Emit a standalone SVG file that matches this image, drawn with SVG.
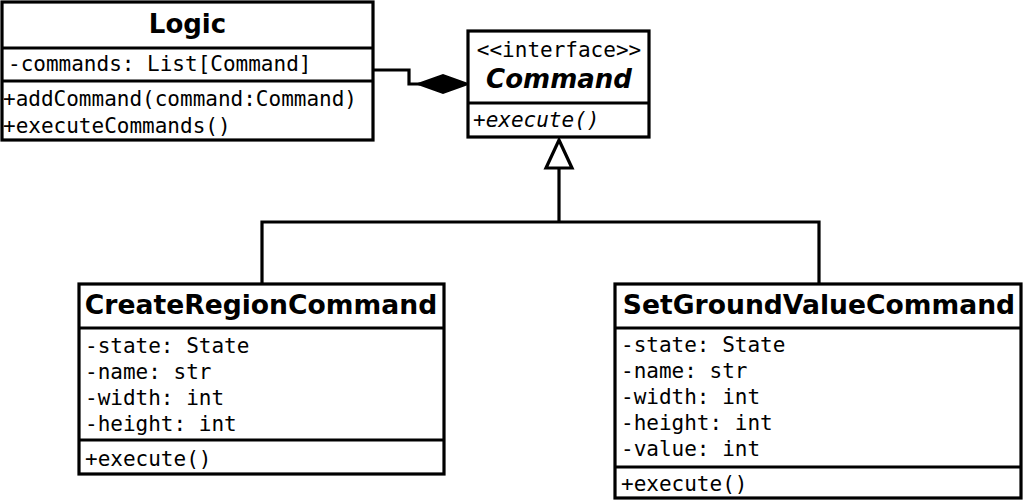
<svg xmlns="http://www.w3.org/2000/svg" width="1024" height="501" viewBox="0 0 1024 501">
<style>
.box{fill:#fff;stroke:#000;stroke-width:3.2}
.sep{stroke:#000;stroke-width:3.2}
.title{font-family:"DejaVu Sans",sans-serif;font-weight:bold;font-size:26px;text-anchor:middle}
.big{font-size:26.6px}
.mono{font-family:"DejaVu Sans Mono",monospace;font-size:21px}
.conn{fill:none;stroke:#000;stroke-width:3.2}
</style>
<rect width="1024" height="501" fill="#fff"/>
<g id="connectors">
<polyline class="conn" points="373,70 409,70 409,84 420,84"/>
<polygon points="418,84 443,75 468,84 443,93" fill="#000" stroke="#000" stroke-width="2"/>
<polyline class="conn" points="262,284 262,222 819,222 819,284"/>
<line class="conn" x1="559" y1="222" x2="559" y2="168"/>
<polygon points="559,140 572,168 546,168" fill="#fff" stroke="#000" stroke-width="3.2"/>
</g>
<g id="logic">
<rect class="box" x="2" y="2" width="371" height="138"/>
<line class="sep" x1="2" y1="48" x2="373" y2="48"/>
<line class="sep" x1="2" y1="81" x2="373" y2="81"/>
<text class="title" x="187.5" y="33">Logic</text>
<text class="mono" x="8" y="71">-commands: List[Command]</text>
<text class="mono" x="3" y="106">+addCommand(command:Command)</text>
<text class="mono" x="3" y="133">+executeCommands()</text>
</g>
<g id="command">
<rect class="box" x="468" y="31" width="181" height="106"/>
<line class="sep" x1="468" y1="103" x2="649" y2="103"/>
<text class="mono" x="559" y="57" text-anchor="middle">&lt;&lt;interface&gt;&gt;</text>
<text class="title" x="559" y="88" font-style="italic">Command</text>
<text class="mono" x="473" y="127" font-style="italic">+execute()</text>
</g>
<g id="createRegion">
<rect class="box" x="79" y="284" width="365" height="190"/>
<line class="sep" x1="79" y1="328" x2="444" y2="328"/>
<line class="sep" x1="79" y1="440" x2="444" y2="440"/>
<text class="title big" x="261" y="314">CreateRegionCommand</text>
<text class="mono" x="85" y="353">-state: State</text>
<text class="mono" x="85" y="379">-name: str</text>
<text class="mono" x="85" y="405">-width: int</text>
<text class="mono" x="85" y="431">-height: int</text>
<text class="mono" x="85" y="466">+execute()</text>
</g>
<g id="setGroundValue">
<rect class="box" x="615" y="284" width="406" height="214"/>
<line class="sep" x1="615" y1="328" x2="1021" y2="328"/>
<line class="sep" x1="615" y1="467" x2="1021" y2="467"/>
<text class="title big" x="819" y="314">SetGroundValueCommand</text>
<text class="mono" x="621" y="352">-state: State</text>
<text class="mono" x="621" y="378">-name: str</text>
<text class="mono" x="621" y="404">-width: int</text>
<text class="mono" x="621" y="430">-height: int</text>
<text class="mono" x="621" y="456">-value: int</text>
<text class="mono" x="621" y="491">+execute()</text>
</g>
</svg>
